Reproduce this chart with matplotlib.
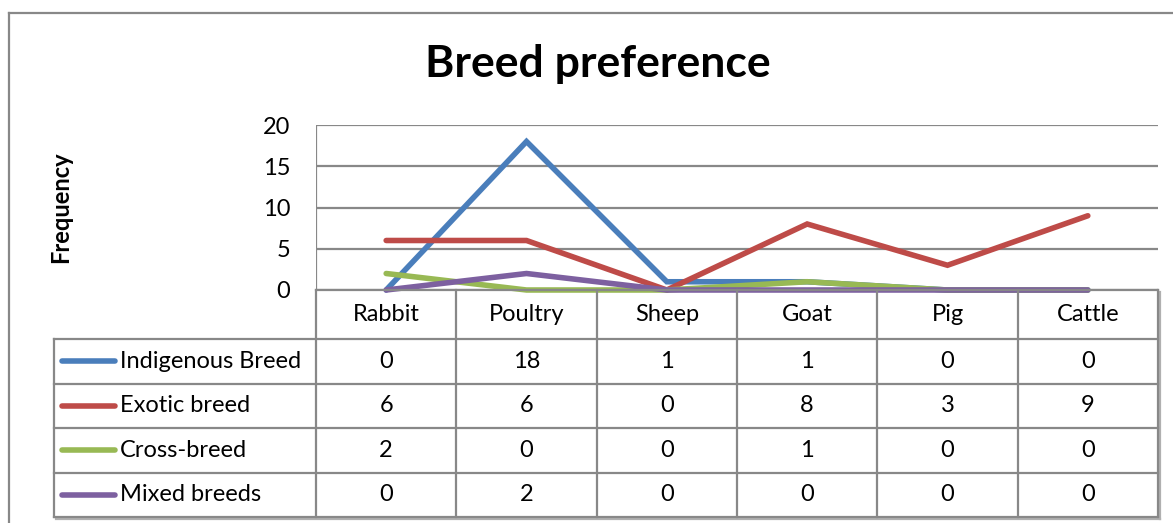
import matplotlib
matplotlib.use("Agg")
import matplotlib.pyplot as plt
from matplotlib.lines import Line2D

plt.rcParams['font.family'] = ['Lato', 'DejaVu Sans']

categories = ["Rabbit", "Poultry", "Sheep", "Goat", "Pig", "Cattle"]
series_names = ["Indigenous Breed", "Exotic breed", "Cross-breed", "Mixed breeds"]
indigenous = [0, 18, 1, 1, 0, 0]
exotic = [6, 6, 0, 8, 3, 9]
cross = [2, 0, 0, 1, 0, 0]
mixed = [0, 2, 0, 0, 0, 0]
series_values = [indigenous, exotic, cross, mixed]
colors = ["#4A7EBB", "#BE4B48", "#98B954", "#7D60A0"]
yticks = [0, 5, 10, 15, 20]

W, H = 1173, 523
fig = plt.figure(figsize=(W / 100, H / 100), dpi=100)
fig.patch.set_facecolor("white")

def fx(px):
    return px / W

def fy(py):
    return 1 - py / H

grid_c = "#888888"
FS = 17

# outer chart border
fig.add_artist(Line2D([fx(8.5), fx(1173)], [fy(13), fy(13)], color=grid_c, lw=1.6))
fig.add_artist(Line2D([fx(8.5), fx(8.5)], [fy(13), fy(523)], color=grid_c, lw=1.6))

# plot area
L, R, T, B = 316, 1158, 125, 290
ax = fig.add_axes([fx(L), fy(B), fx(R) - fx(L), fy(T) - fy(B)])
ax.set_xlim(0, len(categories))
ax.set_ylim(0, 20)
for s in ax.spines.values():
    s.set_visible(False)
ax.set_xticks([])
ax.set_yticks(yticks)
ax.tick_params(axis='y', length=0, pad=18.5, labelsize=FS)
for t in yticks:
    ax.axhline(t, color=grid_c, lw=1.6, zorder=1)
ax.axvline(0, color=grid_c, lw=1.6, zorder=1)
xs = [i + 0.5 for i in range(len(categories))]
for vals, c in zip(series_values, colors):
    ax.plot(xs, vals, color=c, lw=4, solid_capstyle='round', solid_joinstyle='miter', zorder=3, clip_on=False)

fig.text(fx(61), fy(207), "Frequency", fontsize=17, fontweight='bold', rotation=90, ha='center', va='center')

fig.text(fx(598), fy(64), "Breed preference", fontsize=32, fontweight='bold', ha='center', va='center')

# data table
colw = (R - L) / len(categories)
TL = 54
header_bot = 339
row_edges = [339, 383.5, 428, 472.5, 517]
ta = fig.add_axes([0, 0, 1, 1])
ta.set_xlim(0, W)
ta.set_ylim(H, 0)
ta.axis('off')
lc = grid_c
# shadow
ta.add_line(Line2D([R + 2, R + 2], [292, 519], color="#b0b0b0", lw=1.6))
ta.add_line(Line2D([TL + 2, R + 2], [519, 519], color="#b0b0b0", lw=1.6))
# vertical lines
for i in range(len(categories) + 1):
    x = L + i * colw
    ta.add_line(Line2D([x, x], [B, 517], color=lc, lw=1.6))
ta.add_line(Line2D([TL, TL], [339, 517], color=lc, lw=1.6))
# horizontal lines
ta.add_line(Line2D([L, R], [B, B], color=lc, lw=1.6))
for y in row_edges:
    ta.add_line(Line2D([TL, R], [y, y], color=lc, lw=1.6))
# header
for i, cat in enumerate(categories):
    ta.text(L + (i + 0.5) * colw, (B + header_bot) / 2, cat, ha='center', va='center', fontsize=FS)
# rows
for r, (name, vals, c) in enumerate(zip(series_names, series_values, colors)):
    yc = (row_edges[r] + row_edges[r + 1]) / 2
    ta.add_line(Line2D([62, 115], [yc, yc], color=c, lw=4, solid_capstyle='round'))
    ta.text(120, yc, name, ha='left', va='center', fontsize=FS)
    for i, v in enumerate(vals):
        ta.text(L + (i + 0.5) * colw, yc, str(v), ha='center', va='center', fontsize=FS)

fig.savefig("out.png", dpi=100, facecolor="white")
